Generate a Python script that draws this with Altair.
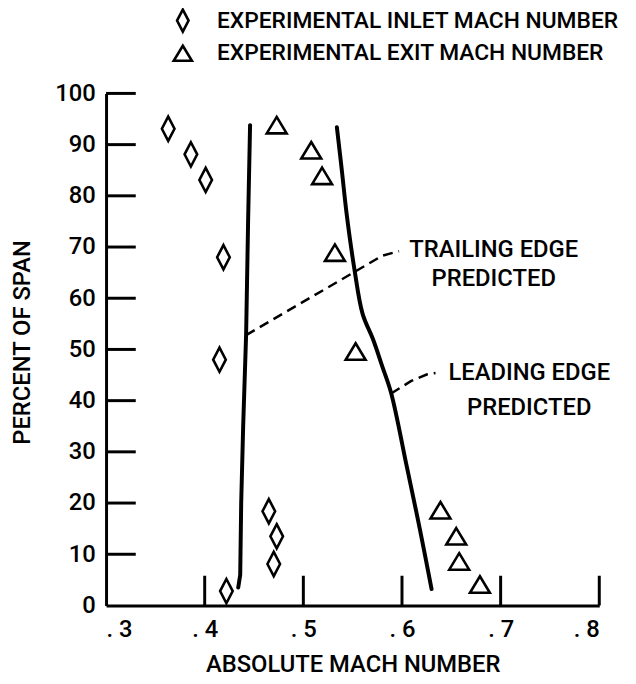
import altair as alt
import pandas as pd

# ---- data ----
inlet_mach = [0.363, 0.386, 0.401, 0.419, 0.415, 0.465, 0.473, 0.470, 0.422]
inlet_span = [93.1, 88.1, 83.1, 68.0, 48.0, 18.4, 13.5, 8.1, 2.8]
exit_mach = [0.473, 0.508, 0.519, 0.532, 0.553, 0.639, 0.655, 0.658, 0.679]
exit_span = [93.8, 88.9, 83.9, 68.9, 49.6, 18.6, 13.5, 8.6, 4.1]

trail_mach = [0.446, 0.444, 0.442, 0.439, 0.437, 0.436, 0.434]
trail_span = [93.8, 75.0, 53.0, 35.0, 20.0, 6.0, 3.5]
lead_mach = [0.534, 0.539, 0.544, 0.552, 0.560, 0.571, 0.580, 0.589, 0.605, 0.618, 0.630]
lead_span = [93.4, 85.0, 76.3, 65.4, 57.0, 51.8, 46.7, 41.5, 27.0, 15.0, 3.2]

trail_leader_mach = [0.442, 0.580, 0.597]
trail_leader_span = [52.8, 68.3, 69.2]
lead_leader_mach = [0.589, 0.609, 0.625, 0.634]
lead_leader_span = [41.4, 43.8, 45.1, 45.4]

label_text = ["TRAILING EDGE", "PREDICTED", "LEADING EDGE", "PREDICTED"]
label_mach = [0.693, 0.693, 0.729, 0.729]
label_span = [69.4, 63.8, 45.3, 38.5]

series_names = ["EXPERIMENTAL INLET MACH NUMBER", "EXPERIMENTAL EXIT MACH NUMBER"]
x_ticks = [0.4, 0.5, 0.6, 0.7, 0.8]
x_labels = [0.3, 0.4, 0.5, 0.6, 0.7, 0.8]
y_ticks = [10, 20, 30, 40, 50, 60, 70, 80, 90, 100]
y_labels = [0, 10, 20, 30, 40, 50, 60, 70, 80, 90, 100]

FONT = "Roboto"
FW = 500
W, H = 498, 517
TICK = 30

DIAMOND = "M0,-1L0.52,0L0,1L-0.52,0Z"
TRIANGLE = "M0,-0.68L0.82,0.68L-0.82,0.68Z"

pts = pd.DataFrame({
    "mach": inlet_mach + exit_mach,
    "span": inlet_span + exit_span,
    "series": [series_names[0]] * len(inlet_mach) + [series_names[1]] * len(exit_mach),
})

lines = pd.DataFrame({
    "mach": trail_mach + lead_mach,
    "span": trail_span + lead_span,
    "line": ["trail"] * len(trail_mach) + ["lead"] * len(lead_mach),
    "order": list(range(len(trail_mach))) + list(range(len(lead_mach))),
})

leaders = pd.DataFrame({
    "mach": trail_leader_mach + lead_leader_mach,
    "span": trail_leader_span + lead_leader_span,
    "line": ["trail"] * len(trail_leader_mach) + ["lead"] * len(lead_leader_mach),
    "order": list(range(len(trail_leader_mach))) + list(range(len(lead_leader_mach))),
})

labels = pd.DataFrame({"mach": label_mach, "span": label_span, "text": label_text})

xscale = alt.Scale(domain=[0.3, 0.8], nice=False, zero=False)
yscale = alt.Scale(domain=[0, 100], nice=False)

x_axis = alt.Axis(
    values=x_labels, ticks=False, grid=False, domainWidth=3, domainColor="black",
    labelExpr="'. ' + round(datum.value * 10)",
    labelFont=FONT, labelFontSize=24, labelFontWeight=FW, labelColor="black", labelPadding=12,
    title="ABSOLUTE MACH NUMBER", titleFont=FONT, titleFontSize=24,
    titleFontWeight=FW, titleColor="black", titleBaseline="alphabetic", titleY=67,
)
y_axis = alt.Axis(
    values=y_labels, ticks=False, grid=False, domainWidth=3, domainColor="black",
    labelFont=FONT, labelFontSize=24, labelFontWeight=FW, labelColor="black", labelPadding=11,
    title="PERCENT OF SPAN", titleFont=FONT, titleFontSize=24,
    titleFontWeight=FW, titleColor="black", titleBaseline="alphabetic", titleX=-77, titleY=251,
)

points = alt.Chart(pts).mark_point(filled=False, strokeWidth=2.6, color="black", opacity=1).encode(
    x=alt.X("mach:Q", scale=xscale, axis=x_axis),
    y=alt.Y("span:Q", scale=yscale, axis=y_axis),
    shape=alt.Shape(
        "series:N",
        scale=alt.Scale(domain=series_names, range=[DIAMOND, TRIANGLE]),
        legend=alt.Legend(
            title=None, orient="none", legendX=65, legendY=-86,
            labelFont=FONT, labelFontSize=23, labelFontWeight=FW, labelColor="black", labelLimit=600,
            symbolSize=500, symbolStrokeWidth=2.6, symbolStrokeColor="black",
            symbolFillColor="transparent", symbolType="circle",
            rowPadding=3, labelOffset=22, padding=0,
        ),
    ),
    size=alt.value(600),
)

trail_line = alt.Chart(lines).transform_filter("datum.line == 'trail'").mark_line(
    color="black", strokeWidth=4, strokeCap="round"
).encode(
    x=alt.X("mach:Q", scale=xscale),
    y=alt.Y("span:Q", scale=yscale),
    order="order:Q",
)
lead_line = alt.Chart(lines).transform_filter("datum.line == 'lead'").mark_line(
    color="black", strokeWidth=4, strokeCap="round", interpolate="catmull-rom"
).encode(
    x=alt.X("mach:Q", scale=xscale),
    y=alt.Y("span:Q", scale=yscale),
    order="order:Q",
)

lead = alt.Chart(leaders).mark_line(color="black", strokeWidth=2.5, strokeDash=[10, 6]).encode(
    x=alt.X("mach:Q", scale=xscale),
    y=alt.Y("span:Q", scale=yscale),
    detail="line:N",
    order="order:Q",
)

text = alt.Chart(labels).mark_text(font=FONT, fontSize=24, fontWeight=FW, color="black", align="center", baseline="middle").encode(
    x=alt.X("mach:Q", scale=xscale),
    y=alt.Y("span:Q", scale=yscale),
    text="text:N",
)

ytick_df = pd.DataFrame({"span": y_ticks})
xtick_df = pd.DataFrame({"mach": x_ticks})

yticks = alt.Chart(ytick_df).mark_rule(color="black", strokeWidth=3).encode(
    y=alt.Y("span:Q", scale=yscale),
    x=alt.value(0),
    x2=alt.value(TICK),
)
xticks = alt.Chart(xtick_df).mark_rule(color="black", strokeWidth=3).encode(
    x=alt.X("mach:Q", scale=xscale),
    y=alt.value(H),
    y2=alt.value(H - TICK),
)

chart = alt.layer(yticks, xticks, trail_line, lead_line, lead, text, points).properties(
    width=W, height=H,
    autosize=alt.AutoSizeParams(type="none"),
    padding={"left": 99, "top": 83, "right": 29, "bottom": 70},
).configure(background="white").configure_view(stroke=None)

chart.save("out.html", embed_options={"renderer": "svg", "actions": False})
